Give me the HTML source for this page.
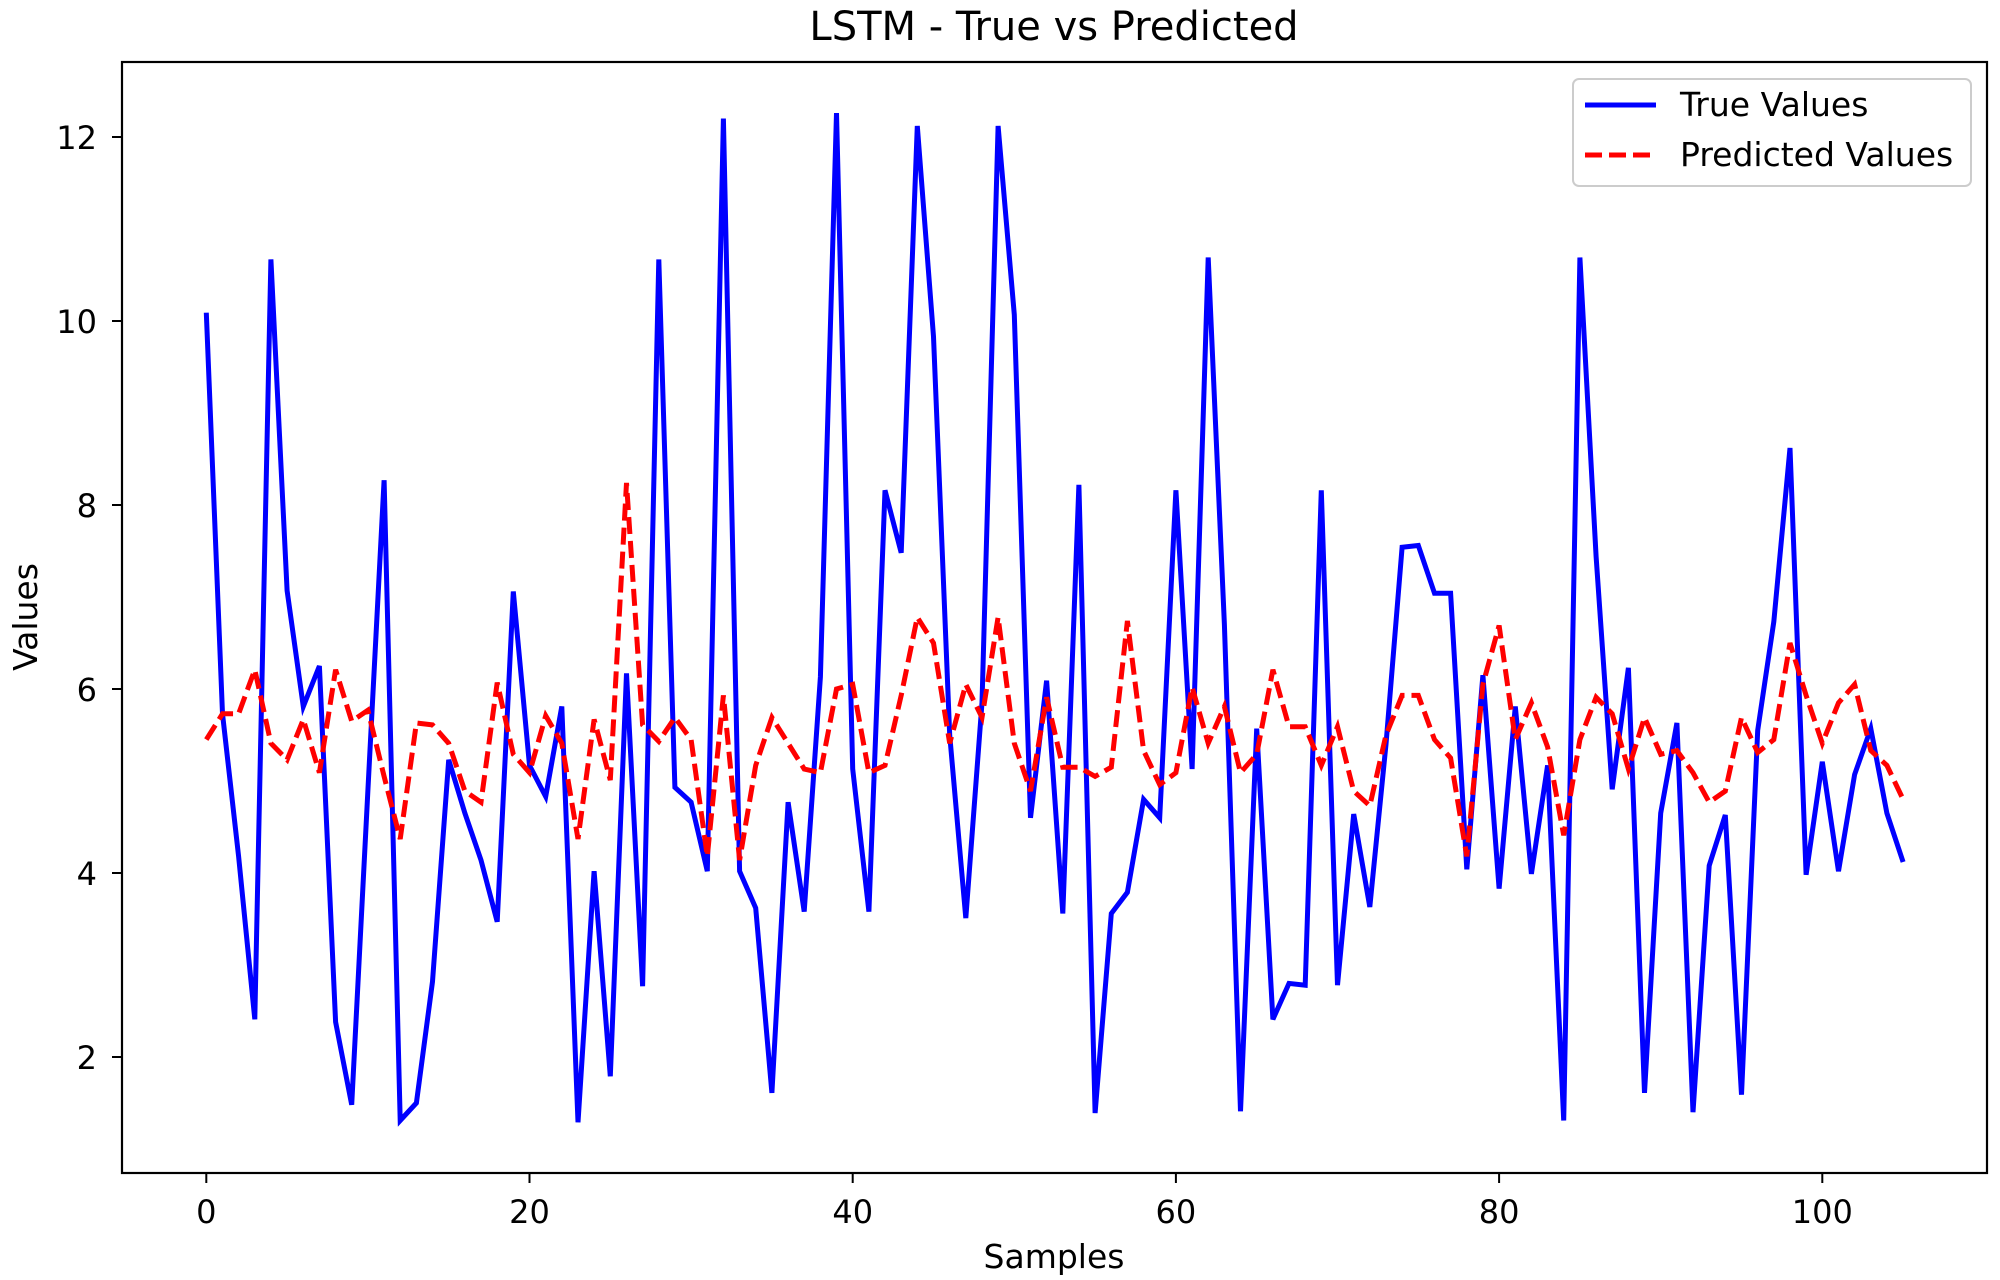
<!DOCTYPE html>
<html>
<head>
<meta charset="utf-8">
<style>
html,body{margin:0;padding:0;background:#fff;}
svg{display:block;}
text{font-family:"DejaVu Sans","Liberation Sans",sans-serif;fill:#000;}
</style>
</head>
<body>
<svg id="chart" width="2000" height="1280" viewBox="0 0 2000 1280" xmlns="http://www.w3.org/2000/svg">
  <rect x="0" y="0" width="2000" height="1280" fill="#fff"/>
  <text x="1054" y="40" font-size="40" text-anchor="middle">LSTM - True vs Predicted</text>
  <g id="plot"></g>
  <rect x="122" y="62" width="1865" height="1111" fill="none" stroke="#000" stroke-width="2.2"/>
  <g id="xticks"></g>
  <g id="yticks"></g>
  <text x="1054" y="1268" font-size="33" text-anchor="middle">Samples</text>
  <text x="0" y="0" font-size="33" text-anchor="middle" transform="translate(37,617) rotate(-90)">Values</text>
  <g>
    <rect x="1573" y="79" width="398" height="107" rx="6" fill="#fff" fill-opacity="0.8" stroke="#ccc" stroke-width="2"/>
    <line x1="1585" y1="105" x2="1656" y2="105" stroke="#0000ff" stroke-width="5"/>
    <text x="1680" y="116" font-size="33">True Values</text>
    <line x1="1585" y1="155" x2="1656" y2="155" stroke="#ff0000" stroke-width="5" stroke-dasharray="17 7"/>
    <text x="1680" y="166" font-size="33">Predicted Values</text>
  </g>
</svg>
<script>
const trueValues = [10.09,5.73,4.18,2.41,10.67,7.07,5.81,6.25,2.38,1.48,4.9,8.27,1.31,1.50,2.82,5.23,4.65,4.14,3.47,7.06,
5.17,4.83,5.81,1.29,4.02,1.79,6.17,2.77,10.67,4.93,4.77,4.02,12.2,4.02,3.62,1.61,4.77,3.58,6.13,12.26,
5.13,3.58,8.16,7.48,12.12,9.83,5.5,3.51,5.85,12.12,10.07,4.60,6.09,3.56,8.22,1.39,3.56,3.79,4.80,4.60,
8.16,5.13,10.69,6.7,1.41,5.57,2.41,2.80,2.78,8.16,2.78,4.64,3.63,5.4,7.54,7.56,7.04,7.04,4.04,6.15,
3.83,5.81,3.99,5.17,1.31,10.69,7.44,4.91,6.23,1.61,4.65,5.63,1.40,4.08,4.63,1.59,5.55,6.73,8.62,3.98,
5.21,4.02,5.07,5.57,4.65,4.12];
const predictedValues = [5.45,5.73,5.73,6.21,5.41,5.23,5.67,5.09,6.21,5.65,5.77,5.05,4.37,5.63,5.61,5.41,4.89,4.77,6.07,5.29,
5.09,5.71,5.41,4.37,5.67,5.01,8.24,5.61,5.43,5.69,5.45,4.18,5.93,4.14,5.17,5.69,5.41,5.13,5.09,6.0,
6.05,5.09,5.17,5.93,6.78,6.50,5.41,6.05,5.69,6.78,5.41,4.89,5.91,5.15,5.15,5.05,5.15,6.74,5.33,4.96,
5.09,6.02,5.41,5.81,5.09,5.29,6.21,5.59,5.59,5.17,5.59,4.89,4.73,5.5,5.93,5.93,5.45,5.25,4.18,6.05,
6.69,5.45,5.85,5.37,4.41,5.45,5.91,5.73,5.13,5.69,5.29,5.33,5.09,4.77,4.89,5.69,5.31,5.45,6.50,5.93,
5.41,5.85,6.05,5.33,5.17,4.80];
const xTickValues = [0,20,40,60,80,100];
const yTickValues = [2,4,6,8,10,12];

const NS = 'http://www.w3.org/2000/svg';
function xScale(i){ return 206.3 + i * 16.16; }
function yScale(v){ return 137 + (12 - v) * 92; }

const plot = document.getElementById('plot');
function makeLine(vals, color, dash, name){
  const pts = vals.map((v,i)=> xScale(i).toFixed(1)+','+yScale(v).toFixed(1)).join(' ');
  const pl = document.createElementNS(NS,'polyline');
  pl.setAttribute('points', pts);
  pl.setAttribute('fill','none');
  pl.setAttribute('stroke', color);
  pl.setAttribute('stroke-width','5');
  pl.setAttribute('stroke-linejoin','miter');
  if (dash) pl.setAttribute('stroke-dasharray', dash);
  
  
  plot.appendChild(pl);
}
makeLine(trueValues, '#0000ff', null, 'true-values-line');
makeLine(predictedValues, '#ff0000', '17 7', 'predicted-values-line');

const xg = document.getElementById('xticks');
xTickValues.forEach(t=>{
  const x = xScale(t);
  const l = document.createElementNS(NS,'line');
  l.setAttribute('x1',x); l.setAttribute('x2',x);
  l.setAttribute('y1',1173); l.setAttribute('y2',1183);
  l.setAttribute('stroke','#000'); l.setAttribute('stroke-width','2');
  
  
  xg.appendChild(l);
  const tx = document.createElementNS(NS,'text');
  tx.setAttribute('x',x); tx.setAttribute('y',1223);
  tx.setAttribute('font-size','32'); tx.setAttribute('text-anchor','middle');
  tx.textContent = String(t);
  
  
  xg.appendChild(tx);
});
const yg = document.getElementById('yticks');
yTickValues.forEach(t=>{
  const y = yScale(t);
  const l = document.createElementNS(NS,'line');
  l.setAttribute('x1',112); l.setAttribute('x2',122);
  l.setAttribute('y1',y); l.setAttribute('y2',y);
  l.setAttribute('stroke','#000'); l.setAttribute('stroke-width','2');
  
  
  yg.appendChild(l);
  const tx = document.createElementNS(NS,'text');
  tx.setAttribute('x',97); tx.setAttribute('y',y+12);
  tx.setAttribute('font-size','32'); tx.setAttribute('text-anchor','end');
  tx.textContent = String(t);
  
  
  yg.appendChild(tx);
});
</script>
</body>
</html>
